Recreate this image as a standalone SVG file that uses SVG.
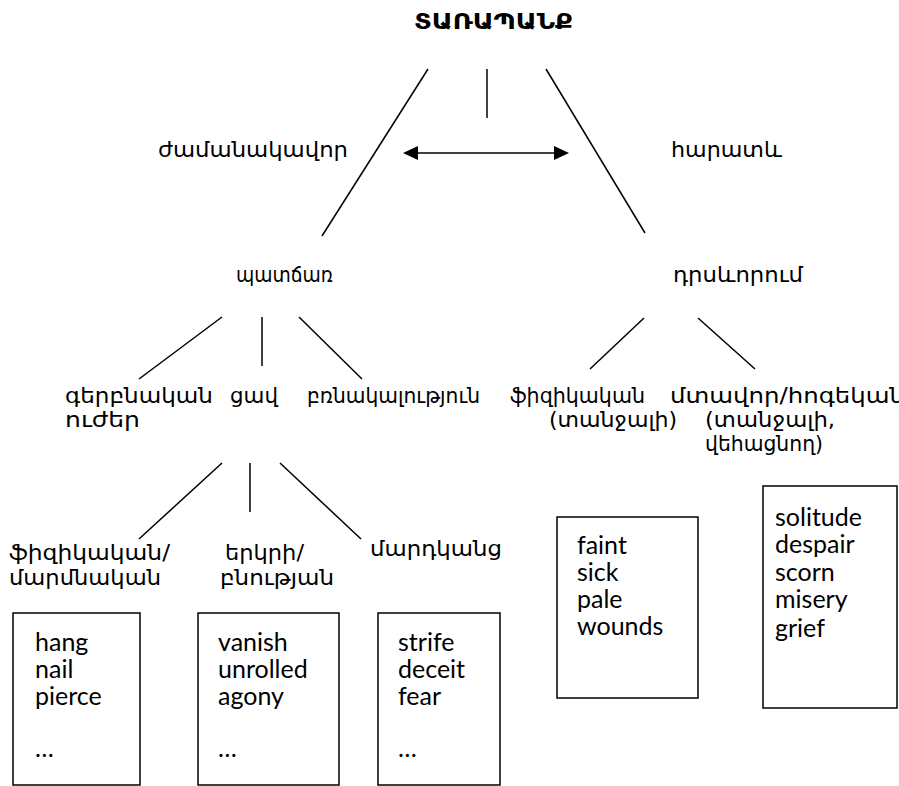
<svg xmlns="http://www.w3.org/2000/svg" width="899" height="786" viewBox="0 0 899 786">
<defs>
<style>
.arm{font-family:"DejaVu Sans","Noto Sans",sans-serif;font-size:21px;fill:#000}
.ttl{font-family:"DejaVu Sans",sans-serif;font-size:22px;font-weight:bold;fill:#000}
.en{font-family:Lato,"Open Sans",sans-serif;font-size:25px;fill:#000}
.ln{stroke:#000;stroke-width:1.5;fill:none}
.box{stroke:#000;stroke-width:1.5;fill:#fff}
</style>
</defs>
<rect width="899" height="786" fill="#fff"/>
<g id="connectors">
<line class="ln" x1="428" y1="69" x2="322" y2="236"/>
<line class="ln" x1="487" y1="69" x2="487" y2="118"/>
<line class="ln" x1="546" y1="69" x2="645" y2="233"/>
<line class="ln" x1="418" y1="153" x2="554" y2="153"/>
<path d="M403,153 L418,146 L418,160 z" fill="#000"/>
<path d="M569,153 L554,146 L554,160 z" fill="#000"/>
<line class="ln" x1="222" y1="317" x2="139" y2="379"/>
<line class="ln" x1="262" y1="317" x2="262" y2="366"/>
<line class="ln" x1="299" y1="317" x2="362" y2="379"/>
<line class="ln" x1="644" y1="318" x2="590" y2="369"/>
<line class="ln" x1="698" y1="318" x2="755" y2="369"/>
<line class="ln" x1="222" y1="463" x2="139" y2="539"/>
<line class="ln" x1="250" y1="463" x2="250" y2="512"/>
<line class="ln" x1="280" y1="463" x2="361" y2="539"/>
</g>
<g id="title"><text class="ttl" x="414" y="29" textLength="159" lengthAdjust="spacingAndGlyphs">ՏԱՌԱՊԱՆՔ</text></g>
<g id="zhamanakavor"><text class="arm" x="158" y="157" textLength="190" lengthAdjust="spacingAndGlyphs">ժամանակավոր</text></g>
<g id="haratev"><text class="arm" x="671" y="157" textLength="111" lengthAdjust="spacingAndGlyphs">հարատև</text></g>
<g id="patchar"><text class="arm" x="236" y="282" textLength="97" lengthAdjust="spacingAndGlyphs">պատճառ</text></g>
<g id="drsevorum"><text class="arm" x="673" y="282" textLength="130" lengthAdjust="spacingAndGlyphs">դրսևորում</text></g>
<g id="row3left">
<text class="arm" x="65" y="403" textLength="148" lengthAdjust="spacingAndGlyphs">գերբնական</text>
<text class="arm" x="230" y="403" textLength="48" lengthAdjust="spacingAndGlyphs">ցավ</text>
<text class="arm" x="307" y="403" textLength="173" lengthAdjust="spacingAndGlyphs">բռնակալություն</text>
<text class="arm" x="65" y="427" textLength="75" lengthAdjust="spacingAndGlyphs">ուժեր</text>
</g>
<g id="fizikakan"><text class="arm" x="510" y="403" textLength="135" lengthAdjust="spacingAndGlyphs">ֆիզիկական</text><text class="arm" x="549" y="427" textLength="128" lengthAdjust="spacingAndGlyphs">(տանջալի)</text></g>
<g id="mtavor"><text class="arm" x="670" y="403" textLength="235" lengthAdjust="spacingAndGlyphs">մտավոր/հոգեկան</text><text class="arm" x="705" y="427" textLength="130" lengthAdjust="spacingAndGlyphs">(տանջալի,</text><text class="arm" x="705" y="451" textLength="118" lengthAdjust="spacingAndGlyphs">վեհացնող)</text></g>
<g id="marmnakan"><text class="arm" x="9" y="560" textLength="161" lengthAdjust="spacingAndGlyphs">ֆիզիկական/</text><text class="arm" x="9" y="585" textLength="152" lengthAdjust="spacingAndGlyphs">մարմնական</text></g>
<g id="bnutyan"><text class="arm" x="225" y="560" textLength="79" lengthAdjust="spacingAndGlyphs">երկրի/</text><text class="arm" x="220" y="585" textLength="114" lengthAdjust="spacingAndGlyphs">բնության</text></g>
<g id="mardkants"><text class="arm" x="370" y="556" textLength="132" lengthAdjust="spacingAndGlyphs">մարդկանց</text></g>
<g id="box1"><rect class="box" x="13" y="613" width="127" height="172"/><text class="en" x="35" y="651">hang</text><text class="en" x="35" y="678">nail</text><text class="en" x="35" y="705">pierce</text><text class="en" x="35" y="757">…</text></g>
<g id="box2"><rect class="box" x="198" y="613" width="141" height="172"/><text class="en" x="218" y="651">vanish</text><text class="en" x="218" y="678">unrolled</text><text class="en" x="218" y="705">agony</text><text class="en" x="218" y="757">…</text></g>
<g id="box3"><rect class="box" x="378" y="613" width="122" height="172"/><text class="en" x="398" y="651">strife</text><text class="en" x="398" y="678">deceit</text><text class="en" x="398" y="705">fear</text><text class="en" x="398" y="757">…</text></g>
<g id="box4"><rect class="box" x="557" y="517" width="141" height="181"/><text class="en" x="577" y="554">faint</text><text class="en" x="577" y="581">sick</text><text class="en" x="577" y="608">pale</text><text class="en" x="577" y="635">wounds</text></g>
<g id="box5"><rect class="box" x="763" y="486" width="134" height="222"/><text class="en" x="775" y="526">solitude</text><text class="en" x="775" y="553">despair</text><text class="en" x="775" y="581">scorn</text><text class="en" x="775" y="608">misery</text><text class="en" x="775" y="637">grief</text></g>
</svg>
